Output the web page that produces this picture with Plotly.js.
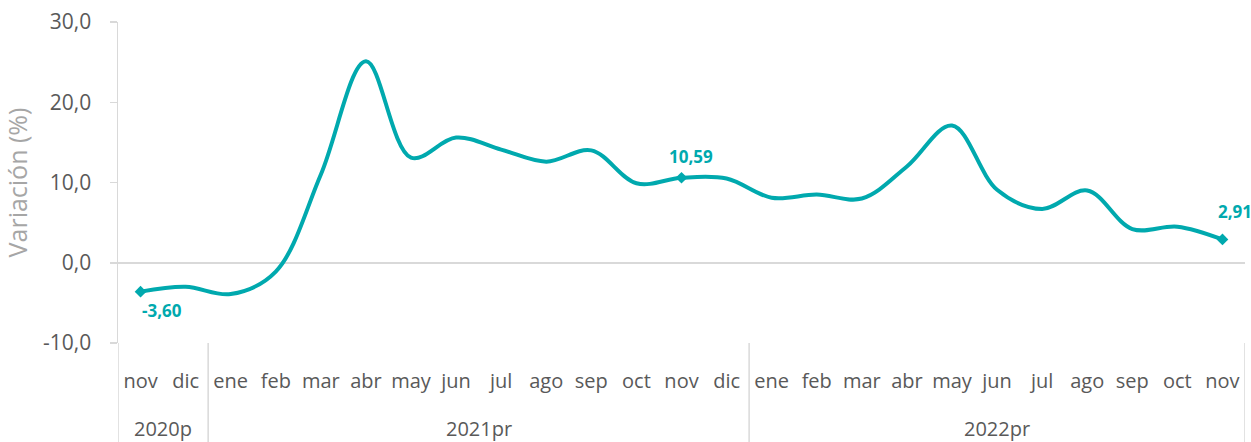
<!DOCTYPE html>
<html>
<head>
<meta charset="utf-8">
<script src="https://cdn.plot.ly/plotly-3.0.1.min.js"></script>
<style>
html,body{margin:0;padding:0;background:#fff;}
#chart{width:1251px;height:442px;}
</style>
</head>
<body>
<div id="chart"></div>
<script>
// Data
var months = ["nov","dic",
  "ene","feb","mar","abr","may","jun","jul","ago","sep","oct","nov","dic",
  "ene","feb","mar","abr","may","jun","jul","ago","sep","oct","nov"];
var yearLabels = ["2020p","2021pr","2022pr"];
var yearStart = [0, 2, 14];   // index of first month of each year group
var yearCount = [2, 12, 11];  // number of months in each group
var variacion = [-3.60,-3.0,
  -3.9,-1.1,11.0,25.1,13.1,15.6,14.1,12.6,14.0,9.9,10.59,10.5,
  8.1,8.5,8.0,12.0,17.1,9.1,6.7,9.0,4.2,4.5,2.91];
var yTickVals = [-10,0,10,20,30];
var yTickText = ["-10,0","0,0","10,0","20,0","30,0"];
var labeledIdx = [0,12,24];
var labelText = ["-3,60","10,59","2,91"];

var teal = "#00A9AE";
var grid = "#d9d9d9";
var font = "'Open Sans', 'Noto Sans', sans-serif";

var idx = months.map(function(m,i){return i;});

var traces = [
  {
    type:"scatter", mode:"lines",
    x:idx, y:variacion,
    line:{color:teal, width:4, shape:"spline", smoothing:1},
    hoverinfo:"y", showlegend:false
  },
  {
    type:"scatter", mode:"markers",
    x:labeledIdx, y:labeledIdx.map(function(i){return variacion[i];}),
    marker:{symbol:"diamond", size:9, color:teal},
    hoverinfo:"skip", showlegend:false
  }
];

var shifts = [[21,-19],[9,21],[13,28]];
var annotations = labeledIdx.map(function(i,k){
  return {
    xref:"x", yref:"y", x:i, y:variacion[i],
    text:"<b>"+labelText[k]+"</b>", showarrow:false,
    font:{family:font, size:17, color:teal},
    xshift:shifts[k][0], yshift:shifts[k][1]
  };
});
yearLabels.forEach(function(lbl,k){
  annotations.push({
    xref:"x", yref:"paper", x:yearStart[k] + (yearCount[k]-1)/2, y:-0.265,
    yanchor:"middle", xanchor:"center",
    text:lbl, showarrow:false,
    font:{family:font, size:20, color:"#595959"}
  });
});

// group dividers at the boundaries of each year group
var shapes = [];
var bounds = [-0.5];
yearStart.forEach(function(s,k){ bounds.push(s + yearCount[k] - 0.5); });
bounds.forEach(function(b){
  shapes.push({type:"line", xref:"x", yref:"paper", x0:b, x1:b, y0:0, y1:-0.31,
    line:{color:grid, width:1.5}});
});

var layout = {
  width:1251, height:442,
  margin:{l:118, r:6, t:22, b:99},
  paper_bgcolor:"#fff", plot_bgcolor:"#fff",
  font:{family:font, color:"#595959"},
  xaxis:{
    range:[-0.5,24.5],
    tickvals:idx, ticktext:months,
    tickfont:{family:font, size:20, color:"#595959"},
    ticks:"", ticklabelstandoff:24,
    showgrid:false, zeroline:false, showline:false
  },
  yaxis:{
    range:[-10,30],
    tickvals:yTickVals, ticktext:yTickText,
    tickfont:{family:font, size:21, color:"#595959"},
    ticks:"outside", ticklen:7, tickcolor:grid, tickwidth:1.5,
    ticklabelstandoff:14,
    showline:true, linecolor:grid, linewidth:1.5,
    showgrid:false,
    zeroline:true, zerolinecolor:grid, zerolinewidth:1.5,
    title:{text:"Variación (%)", font:{family:font, size:25, color:"#a6a6a6"}, standoff:10}
  },
  shapes:shapes,
  annotations:annotations
};

Plotly.newPlot("chart", traces, layout, {displayModeBar:false, staticPlot:true});
</script>
</body>
</html>
